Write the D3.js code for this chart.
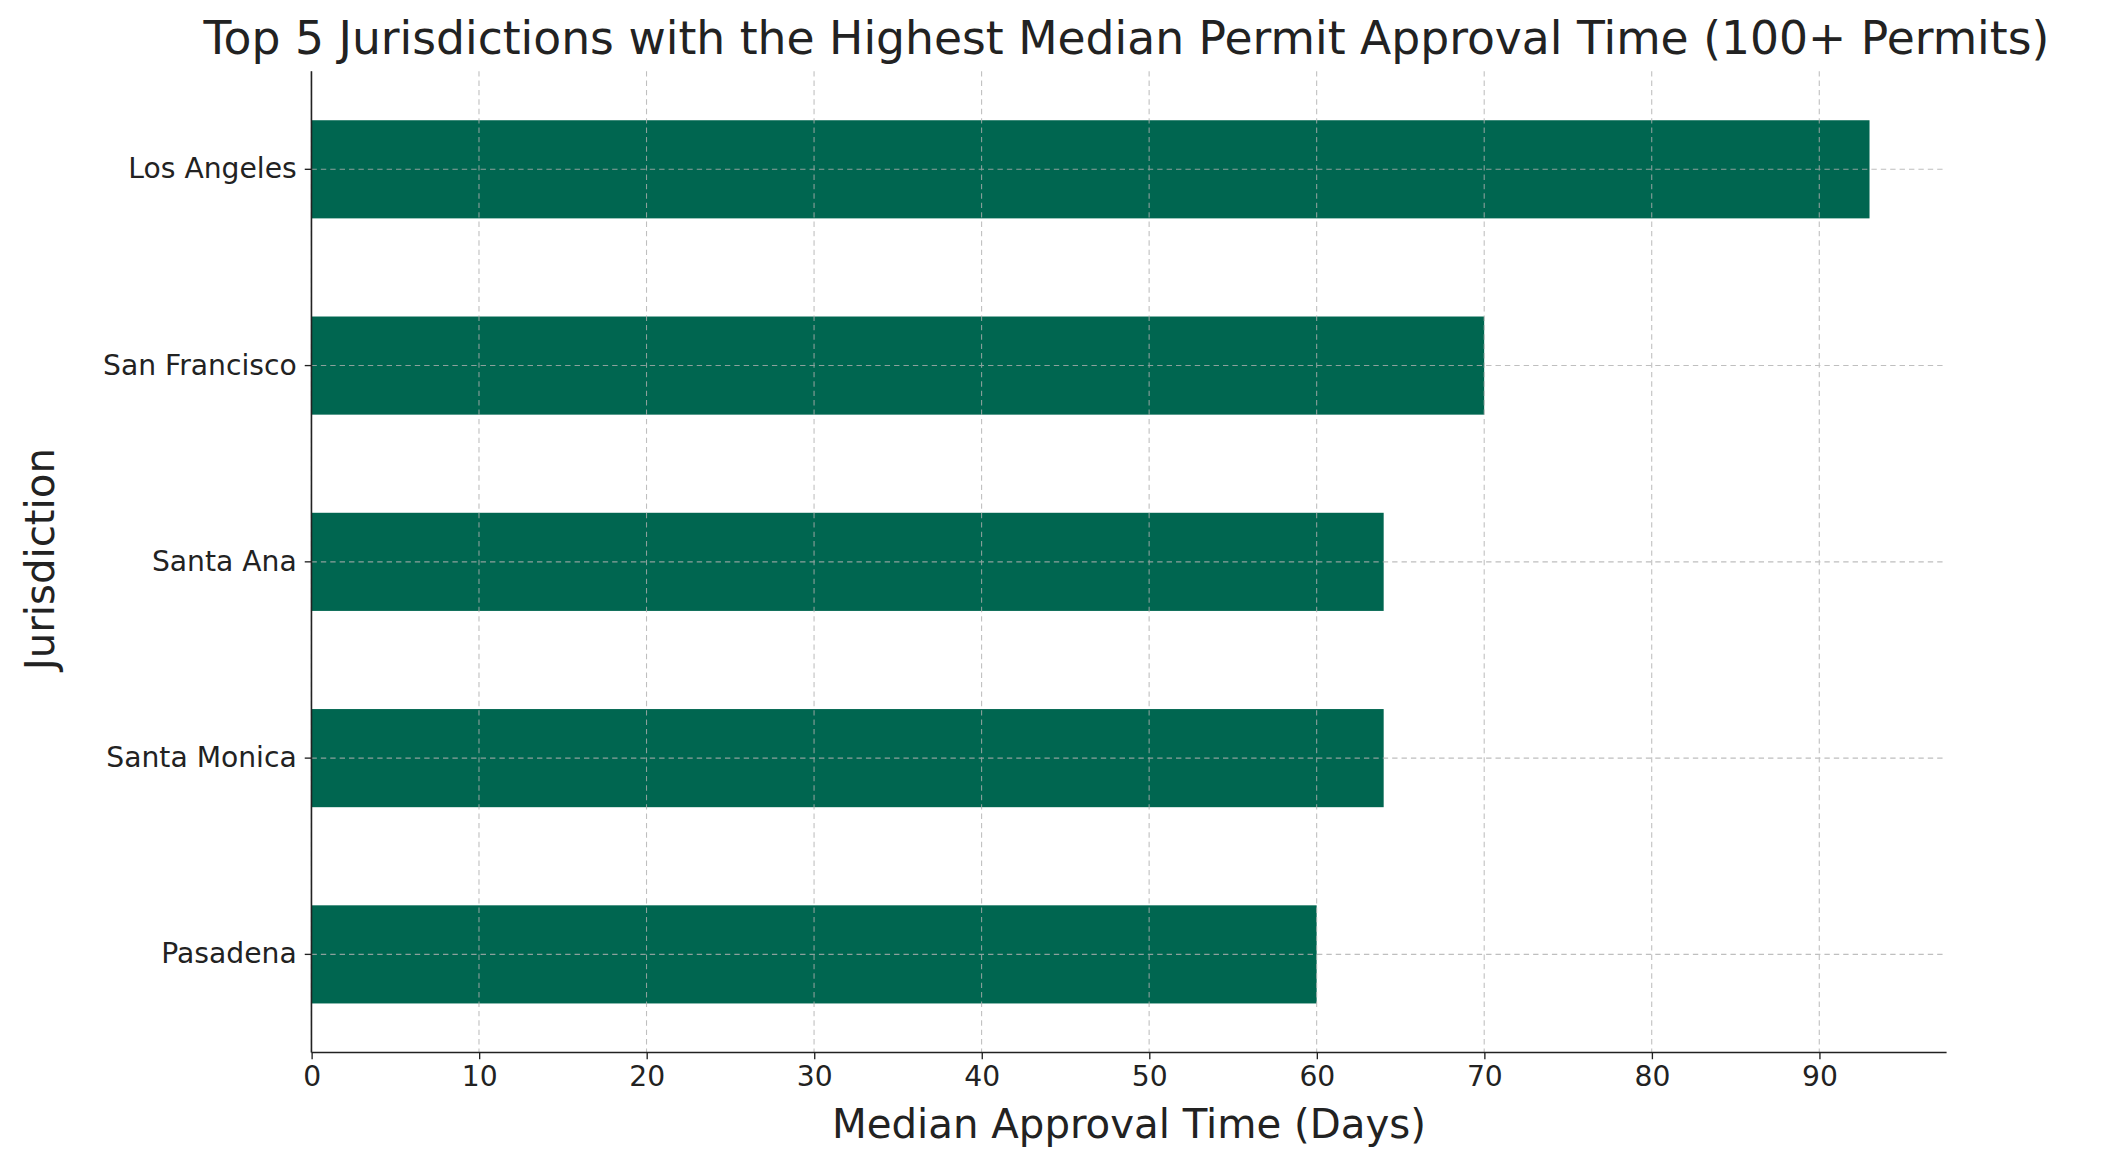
<!DOCTYPE html>
<html>
<head>
<meta charset="utf-8">
<script src="https://cdn.jsdelivr.net/npm/d3@7"></script>
<style>
  body { margin: 0; background: #fff; }
  text { font-family: "DejaVu Sans", sans-serif; fill: #222; }
</style>
</head>
<body>
<div id="chart"></div>
<script>
const jurisdictions = ["Los Angeles", "San Francisco", "Santa Ana", "Santa Monica", "Pasadena"];
const medianDays = [93, 70, 64, 64, 60];
const xTicks = [0, 10, 20, 30, 40, 50, 60, 70, 80, 90];

// drawn in a 1568x870 coordinate system and scaled to the window
const W = 1568, H = 870;
const margin = {top: 53, bottom: 86, left: 232, right: 118};
const innerWidth = W - margin.left - margin.right,
      innerHeight = H - margin.top - margin.bottom;

const svg = d3.select("#chart").append("svg")
  .attr("width", 2105).attr("height", 1168)
  .attr("viewBox", `0 0 ${W} ${H}`);

const g = svg.append("g").attr("transform", `translate(${margin.left},${margin.top})`);

const x = d3.scaleLinear().domain([0, 97.6]).range([0, innerWidth]);
const y = d3.scaleBand().domain(jurisdictions).range([0, innerHeight])
  .paddingInner(0.5).paddingOuter(0.25);

const data = jurisdictions.map((d, i) => ({name: d, value: medianDays[i]}));

g.selectAll("rect").data(data).enter().append("rect")
  .attr("x", 0)
  .attr("y", d => y(d.name))
  .attr("width", d => x(d.value))
  .attr("height", y.bandwidth())
  .attr("fill", "#006650");

// grid on top of bars
const grid = g.append("g").attr("stroke", "#b0b0b0").attr("stroke-width", 0.8)
  .attr("stroke-dasharray", "4,3").attr("opacity", 0.8);
grid.selectAll(".vx").data(xTicks).enter().append("line")
  .attr("x1", d => x(d)).attr("x2", d => x(d)).attr("y1", 0).attr("y2", innerHeight);
grid.selectAll(".hy").data(jurisdictions).enter().append("line")
  .attr("x1", 0).attr("x2", innerWidth)
  .attr("y1", d => y(d) + y.bandwidth() / 2).attr("y2", d => y(d) + y.bandwidth() / 2);

const xAxis = g.append("g").attr("transform", `translate(0,${innerHeight})`)
  .call(d3.axisBottom(x).tickValues(xTicks).tickSizeOuter(0).tickSize(5).tickPadding(5));
const yAxis = g.append("g")
  .call(d3.axisLeft(y).tickSizeOuter(0).tickSize(5).tickPadding(6));
[xAxis, yAxis].forEach(a => {
  a.attr("font-size", null).attr("font-family", null);
  a.selectAll("text").style("font-size", "21px").style("font-family", "DejaVu Sans").attr("fill", "#222");
  a.selectAll("line").attr("stroke", "#222");
  a.select(".domain").attr("stroke", "#222").attr("stroke-width", 1.2);
});
// axis domains from the range ends only
xAxis.select(".domain").attr("d", `M0,0H${innerWidth}`);
yAxis.select(".domain").attr("d", `M0,0V${innerHeight}`);

svg.append("text")
  .attr("x", 839).attr("y", 40)
  .attr("text-anchor", "middle").style("font-size", "34px")
  .text("Top 5 Jurisdictions with the Highest Median Permit Approval Time (100+ Permits)");

svg.append("text")
  .attr("x", 841).attr("y", 848)
  .attr("text-anchor", "middle").style("font-size", "30px")
  .text("Median Approval Time (Days)");

svg.append("text")
  .attr("transform", `translate(40,${margin.top + innerHeight / 2 - 2}) rotate(-90)`)
  .attr("text-anchor", "middle").style("font-size", "30px")
  .text("Jurisdiction");
</script>
</body>
</html>
